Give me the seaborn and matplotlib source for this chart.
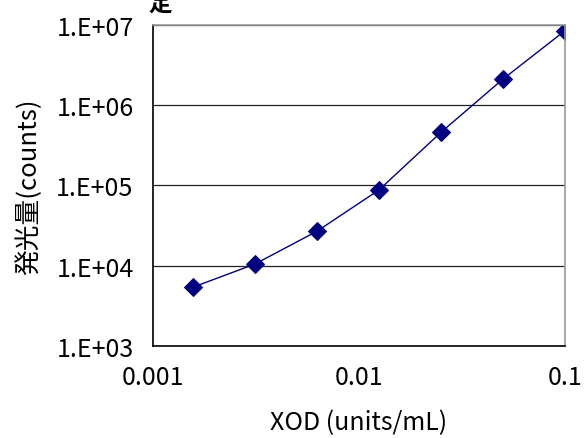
import matplotlib
matplotlib.use("Agg")
import matplotlib.pyplot as plt
import numpy as np
import pandas as pd
import seaborn as sns

# XOD concentration (units/mL) and luminescence counts
xod = [0.0015625, 0.003125, 0.00625, 0.0125, 0.025, 0.05, 0.1]
counts = [5400, 10500, 26900, 88000, 460000, 2120000, 8500000]

x_ticks = [0.001, 0.01, 0.1]
x_labels = ["0.001", "0.01", "0.1"]
y_ticks = [1e3, 1e4, 1e5, 1e6, 1e7]
y_labels = ["1.E+03", "1.E+04", "1.E+05", "1.E+06", "1.E+07"]

df = pd.DataFrame({"xod": xod, "counts": counts})

sns.set_style("white")
plt.rcParams["font.family"] = ["Noto Sans CJK JP", "DejaVu Sans"]
for k in ["text.color", "axes.labelcolor", "xtick.color", "ytick.color"]:
    plt.rcParams[k] = "black"

fig = plt.figure(figsize=(5.84, 4.39), dpi=100)
ax = fig.add_axes([0.262, 0.2096, 0.7055, 0.7312])

sns.lineplot(data=df, x="xod", y="counts", ax=ax, color="#000080",
             linewidth=1.0, marker="D", markersize=9, markeredgecolor="#000080")

ax.set_xscale("log")
ax.set_yscale("log")
ax.set_xlim(0.001, 0.1)
ax.set_ylim(1e3, 1e7)

ax.set_xticks(x_ticks)
ax.set_xticklabels(x_labels)
ax.set_yticks(y_ticks)
ax.set_yticklabels(y_labels)
ax.minorticks_off()
ax.tick_params(axis="both", direction="in", length=7, width=1, color="black",
               labelsize=18)
ax.tick_params(axis="y", pad=14)
ax.tick_params(axis="x", pad=13)

# horizontal grid at each decade
ax.yaxis.grid(True, color="#222222", linewidth=0.9)
ax.xaxis.grid(False)

for side in ["left", "bottom"]:
    ax.spines[side].set_color("black")
    ax.spines[side].set_linewidth(1.2)
for side in ["top", "right"]:
    ax.spines[side].set_color("#999999")
    ax.spines[side].set_linewidth(1.2)

ax.set_xlabel("XOD (units/mL)", fontsize=18, labelpad=14)
ax.set_ylabel("発光量(counts)", fontsize=18.5, labelpad=10)

# title cut off at the top of the image
fig.text(0.255, 1.018, "定", fontsize=17, fontweight="bold", va="top")

fig.savefig("out.png", dpi=100)
